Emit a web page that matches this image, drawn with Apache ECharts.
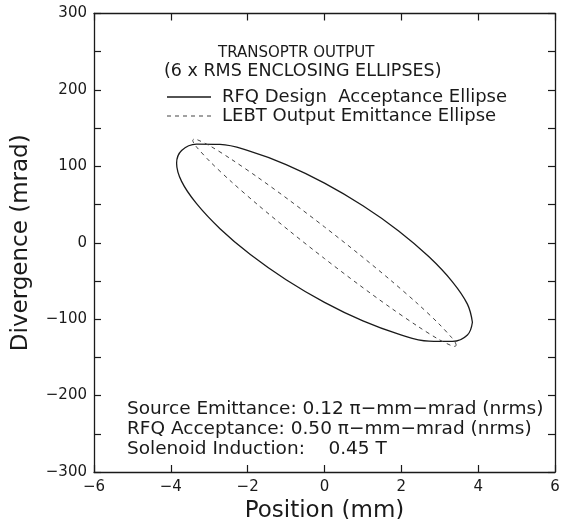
<!DOCTYPE html>
<html><head><meta charset="utf-8">
<script src="https://cdn.jsdelivr.net/npm/echarts@6/dist/echarts.min.js"></script>
<style>html,body{margin:0;padding:0;background:#fff}#c{width:565px;height:519px}</style>
</head><body><div id="c"></div>
<script>
// Position (mm) / Divergence (mrad) points
const rfqX = [3.85, 3.72, 3.33, 2.72, 1.93, 1.00, 0.00, -1.00, -1.93, -2.72, -3.33, -3.72, -3.85, -3.72, -3.33, -2.72, -1.93, -1.00, 0.00, 1.00, 1.93, 2.72, 3.33, 3.72, 3.85];
const rfqY = [-104.0, -80.3, -51.1, -18.4, 15.5, 48.4, 78.0, 102.3, 119.5, 128.7, 129.1, 120.7, 104.0, 80.3, 51.1, 18.4, -15.5, -48.4, -78.0, -102.3, -119.5, -128.7, -129.1, -120.7, -104.0];
const lebtX = [3.43, 3.40, 3.31, 2.97, 2.43, 1.72, 0.89, 0.00, -0.89, -1.72, -2.43, -2.97, -3.31, -3.40, -3.43, -3.40, -3.31, -2.97, -2.43, -1.72, -0.89, 0.00, 0.89, 1.72, 2.43, 2.97, 3.31, 3.40, 3.43];
const lebtY = [-134.0, -130.1, -124.1, -105.7, -80.1, -49.0, -14.6, 20.7, 54.7, 85.0, 109.4, 126.4, 134.8, 135.6, 134.0, 130.1, 124.1, 105.7, 80.1, 49.0, 14.6, -20.7, -54.7, -85.0, -109.4, -126.4, -134.8, -135.6, -134.0];
const xTicks = [-6, -4, -2, 0, 2, 4, 6];
const yTicks = [-300, -200, -100, 0, 100, 200, 300];
const seriesNames = ['RFQ Design  Acceptance Ellipse', 'LEBT Output Emittance Ellipse'];
const titleLines = ['TRANSOPTR OUTPUT', '(6 x RMS ENCLOSING ELLIPSES)'];
const noteLines = ['Source Emittance: 0.12 \u03c0\u2212mm\u2212mrad (nrms)', 'RFQ Acceptance: 0.50 \u03c0\u2212mm\u2212mrad (nrms)', 'Solenoid Induction:    0.45 T'];

const FONT = 'DejaVu Sans';
const INK = '#1a1a1a';
const pairs = (xs, ys) => xs.map((x, i) => [x, ys[i]]);
const minus = v => String(v).replace('-', '\u2212');

const chart = echarts.init(document.getElementById('c'), null, {renderer: 'canvas'});
const xBase = {
  type: 'value', min: xTicks[0], max: xTicks[xTicks.length - 1], interval: xTicks[1] - xTicks[0],
  splitLine: {show: false},
  axisLine: {show: true, onZero: false, lineStyle: {color: INK, width: 1.3}},
  axisTick: {show: true, inside: true, length: 7, lineStyle: {color: INK, width: 1.2}}
};
const yBase = {
  type: 'value', min: yTicks[0], max: yTicks[yTicks.length - 1], interval: yTicks[1] - yTicks[0],
  splitLine: {show: false},
  axisLine: {show: true, onZero: false, lineStyle: {color: INK, width: 1.3}},
  axisTick: {show: true, inside: true, length: 7, lineStyle: {color: INK, width: 1.2}},
  minorTick: {show: true, splitNumber: 2, length: 7, lineStyle: {color: INK, width: 1.2}},
  minorSplitLine: {show: false}
};
const solidIcon = 'path://M0,0H44V1.3H0Z';
const dashIcon = 'path://M0,0H4V1H0Z M8,0H12V1H8Z M16,0H20V1H16Z M24,0H28V1H24Z M32,0H36V1H32Z M40,0H44V1H40Z';

chart.setOption({
  animation: false,
  backgroundColor: '#fff',
  grid: {left: 94, right: 10, top: 13.5, bottom: 47, containLabel: false, outerBoundsMode: 'none'},
  legend: {
    data: [{name: seriesNames[0], icon: solidIcon}, {name: seriesNames[1], icon: dashIcon}],
    orient: 'vertical', left: 167, top: 88, padding: 0,
    itemWidth: 44, itemHeight: 12, itemGap: 1,
    textStyle: {fontFamily: FONT, fontSize: 18, color: INK, padding: [0, 0, 0, 6]}
  },
  xAxis: [
    Object.assign({}, xBase, {
      position: 'bottom', name: 'Position (mm)', nameLocation: 'middle', nameGap: 25,
      nameTextStyle: {fontFamily: FONT, fontSize: 23, color: INK},
      axisLabel: {fontFamily: FONT, fontSize: 15, color: INK, margin: 8, formatter: minus}
    }),
    Object.assign({}, xBase, {position: 'top', axisLabel: {show: false}})
  ],
  yAxis: [
    Object.assign({}, yBase, {
      position: 'left', name: 'Divergence (mrad)', nameLocation: 'middle', nameGap: 61,
      nameTextStyle: {fontFamily: FONT, fontSize: 23, color: INK},
      axisLabel: {fontFamily: FONT, fontSize: 15, color: INK, margin: 7, formatter: minus}
    }),
    Object.assign({}, yBase, {position: 'right', axisLabel: {show: false}})
  ],
  series: [
    {name: seriesNames[0], type: 'line', data: pairs(rfqX, rfqY), smooth: 0.4,
      symbol: 'none', showSymbol: false,
      lineStyle: {color: INK, width: 1.3, type: 'solid'}, itemStyle: {color: INK}},
    {name: seriesNames[1], type: 'line', data: pairs(lebtX, lebtY), smooth: 0.3,
      symbol: 'none', showSymbol: false,
      lineStyle: {color: '#444', width: 1, type: [4, 4]}, itemStyle: {color: '#444'}}
  ],
  graphic: [
    {type: 'text', left: 218, top: 46, style: {text: titleLines[0], font: '15px "DejaVu Sans"', fill: INK}},
    {type: 'text', left: 164, top: 62, style: {text: titleLines[1], font: '17.5px "DejaVu Sans"', fill: INK}},
    {type: 'text', left: 127, top: 400, style: {text: noteLines[0], font: '18.5px "DejaVu Sans"', fill: INK}},
    {type: 'text', left: 127, top: 420, style: {text: noteLines[1], font: '18.5px "DejaVu Sans"', fill: INK}},
    {type: 'text', left: 127, top: 440, style: {text: noteLines[2], font: '18.5px "DejaVu Sans"', fill: INK}}
  ]
});
</script></body></html>
